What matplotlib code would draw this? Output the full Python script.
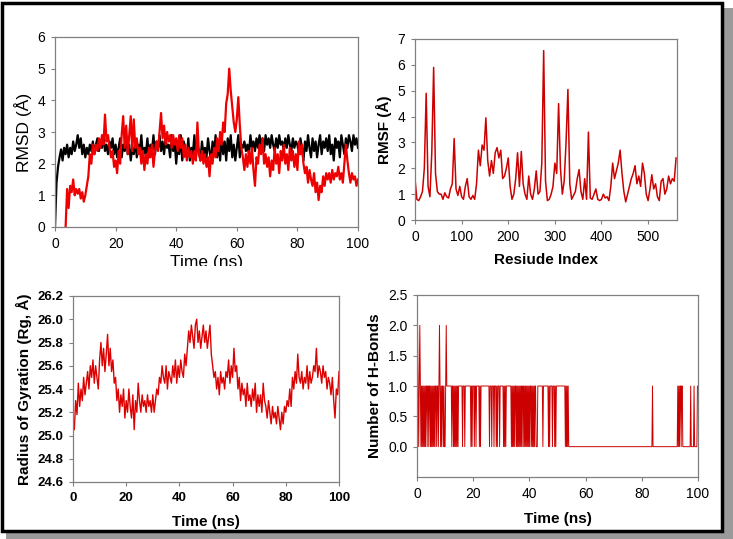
import numpy as np
import matplotlib
matplotlib.use('Agg')
import matplotlib.pyplot as plt
from matplotlib.patches import Rectangle

plt.rcParams['font.family'] = ['Liberation Sans', 'DejaVu Sans']

# RMSD backbone (black) - sampled every 0.5 ns from 0 ns
rmsd_black = [
    0.0, 1.4, 1.9, 2.2, 2.45, 2.1, 2.5, 2.3, 2.6, 2.2, 2.5, 2.3, 2.7, 2.4, 2.6, 2.9, 2.5, 2.8, 2.3, 2.6,
    2.2, 2.5, 2.3, 2.6, 2.4, 2.7, 2.3, 2.6, 2.8, 2.4, 2.7, 2.5, 2.9, 2.4, 2.6, 2.3, 2.7, 2.5, 2.8, 2.3,
    2.6, 2.2, 2.5, 2.8, 2.2, 2.6, 2.4, 2.9, 2.3, 2.6, 2.1, 2.5, 2.3, 2.7, 2.2, 2.6, 2.4, 2.9, 2.2, 2.5,
    2.3, 2.8, 2.2, 2.6, 2.4, 2.9, 2.3, 2.7, 2.5, 2.9, 2.4, 2.7, 2.3, 2.8, 2.5, 2.6, 2.2, 2.9, 2.4, 2.7,
    2.0, 2.6, 2.3, 2.9, 2.1, 2.7, 2.4, 2.2, 2.8, 2.1, 2.5, 2.3, 2.9, 2.2, 2.6, 2.4, 2.1, 2.7, 2.3, 2.5,
    2.2, 2.8, 2.4, 2.1, 2.7, 2.3, 2.9, 2.2, 2.6, 2.1, 2.9, 2.3, 2.7, 2.1, 2.8, 2.4, 2.9, 2.2, 2.6, 2.1,
    2.5, 2.9, 2.2, 2.6, 2.5, 2.7, 2.4, 2.6, 2.3, 2.9, 2.5, 2.7, 2.4, 2.8, 2.5, 2.9, 2.6, 2.8, 2.4, 2.9,
    2.6, 2.8, 2.5, 2.9, 2.6, 2.4, 2.8, 2.5, 2.9, 2.6, 2.7, 2.4, 2.8, 2.5, 2.9, 2.6, 2.4, 2.8, 2.5, 2.7,
    2.6, 2.3, 2.8, 2.5, 2.1, 2.7, 2.4, 2.9, 2.5, 2.2, 2.8, 2.4, 2.7, 2.2, 2.6, 2.9, 2.3, 2.7, 2.5, 2.8,
    2.4, 2.9, 2.3, 2.6, 2.1, 2.8, 2.5, 2.7, 2.2, 2.9, 2.6, 2.3, 2.8, 2.5, 2.9, 2.7, 2.4, 2.9, 2.6, 2.8,
    2.5]

# RMSD complex (red) - sampled every 0.5 ns from 3.5 ns
rmsd_red = [
    0.0, 1.2, 0.6, 1.3, 1.1, 1.5, 1.0, 1.2, 1.05, 1.2, 0.9, 1.1, 0.8, 1.0, 1.3, 1.6,
    2.3, 2.0, 2.6, 2.3, 2.6, 2.4, 2.8, 2.5, 2.9, 2.6, 3.55, 2.7, 2.9, 2.5, 2.2, 2.4, 1.9,
    2.1, 1.7, 2.4, 2.0, 2.9, 3.5, 2.5, 3.2, 2.3, 2.9, 3.5, 2.4, 3.4, 2.5, 2.8, 2.3, 2.5, 2.0, 2.4, 1.8,
    2.3, 2.0, 2.5, 2.2, 2.6, 1.9, 2.4, 2.7, 2.4, 3.0, 3.6, 2.8, 3.2, 2.6, 3.0, 2.7, 2.9, 2.5, 2.9, 2.6,
    2.8, 2.4, 2.9, 2.5, 2.8, 2.2, 2.6, 2.1, 2.5, 2.2, 2.4, 2.0, 2.4, 2.1, 3.3, 2.3, 2.1, 2.4, 2.0, 2.3,
    1.9, 2.2, 1.6, 2.3, 2.0, 2.5, 2.2, 2.8, 2.4, 3.0, 2.6, 3.3, 3.0, 3.9, 4.2, 5.0, 4.3, 3.8, 3.3, 3.0,
    3.4, 4.1, 3.2, 2.5, 2.2, 1.8, 2.3, 1.9, 2.4, 2.0, 2.5, 1.8, 1.3, 2.2, 2.0, 2.6, 2.3, 2.8, 2.0, 2.3,
    1.9, 2.2, 1.6, 2.1, 1.8, 2.5, 2.0, 2.3, 1.7, 2.4, 2.1, 2.6, 2.0, 2.3, 1.8, 2.5, 2.1, 2.4, 1.9, 2.3,
    1.8, 2.7, 2.3, 2.6, 2.0, 1.7, 1.9, 1.4, 1.8, 1.5, 1.3, 1.7, 1.1, 1.4, 0.85, 1.3, 1.1, 1.6, 1.3, 1.7,
    1.5, 1.7, 1.4, 1.8, 1.5, 1.7, 1.6, 1.9, 1.5, 1.7, 1.4, 2.0, 2.6, 2.1, 1.7, 1.4, 1.7, 1.5, 1.6, 1.3,
    1.5]

# RMSF per residue, every 4 residues
rmsf = [
    1.6, 0.8, 0.75, 0.9, 1.1, 2.0, 4.9, 1.3, 0.9, 2.6, 5.9, 1.8, 1.1, 1.0, 1.0, 0.8, 1.05, 0.9, 0.85, 1.2,
    1.4, 3.15, 1.2, 0.95, 1.3, 0.9, 0.8, 1.3, 1.6, 0.9, 0.8, 0.95, 0.8, 1.4, 2.7, 2.1, 2.9, 2.7, 3.95, 2.3,
    1.7, 2.3, 1.8, 2.6, 2.8, 2.4, 2.7, 1.6, 1.7, 2.0, 2.4, 1.3, 0.8, 1.0, 1.6, 2.6, 1.3, 2.65, 1.4, 1.0,
    0.8, 1.7, 1.0, 0.8, 1.2, 1.9, 1.0, 1.1, 2.2, 6.55, 1.5, 0.75, 0.8, 1.0, 1.3, 2.2, 1.8, 4.5, 2.0, 1.0,
    1.5, 3.0, 5.05, 1.4, 0.8, 0.95, 1.1, 1.6, 1.95, 1.1, 0.8, 1.6, 0.8, 3.4, 0.85, 0.8, 1.0, 1.2, 0.8, 0.75,
    0.8, 1.0, 0.85, 0.9, 0.75, 1.3, 2.2, 1.6, 1.9, 2.2, 2.7, 1.8, 1.1, 0.7, 1.0, 1.3, 1.6, 1.8, 2.1, 1.4,
    1.7, 1.3, 2.2, 1.8, 1.0, 0.75, 1.2, 1.75, 1.2, 1.4, 0.9, 0.75, 1.5, 1.6, 1.0, 1.2, 1.7, 1.4, 1.6, 1.5,
    2.4]
rmsf_step = 4

# Radius of gyration, every 0.5 ns
rg = [
    25.15, 25.05, 25.3, 25.18, 25.45, 25.25, 25.4, 25.3, 25.5, 25.35, 25.45, 25.55, 25.4, 25.6, 25.5, 25.65, 25.45, 25.6, 25.5, 25.4,
    25.65, 25.8, 25.6, 25.75, 25.55, 25.7, 25.87, 25.6, 25.75, 25.55, 25.65, 25.45, 25.5, 25.3, 25.4, 25.2, 25.35, 25.25, 25.4, 25.15,
    25.3, 25.2, 25.4, 25.25, 25.15, 25.35, 25.05, 25.3, 25.2, 25.45, 25.3, 25.2, 25.35, 25.25, 25.3, 25.2, 25.35, 25.25, 25.3, 25.2,
    25.35, 25.2, 25.3, 25.4, 25.35, 25.5, 25.45, 25.6, 25.5, 25.45, 25.6, 25.4, 25.55, 25.5, 25.45, 25.6, 25.5, 25.65, 25.45, 25.6,
    25.5, 25.65, 25.55, 25.5, 25.7, 25.6, 25.75, 25.9, 25.8, 25.95, 25.85, 25.75, 25.95, 26.0, 25.8, 25.9, 25.75, 25.85, 25.95, 25.8,
    25.9, 25.75, 25.85, 25.95, 25.7, 25.6, 25.5, 25.55, 25.4, 25.5, 25.35, 25.55, 25.45, 25.5, 25.4, 25.55, 25.5, 25.65, 25.45, 25.6,
    25.5, 25.75, 25.55, 25.6, 25.4, 25.5, 25.3, 25.45, 25.35, 25.4, 25.25, 25.45, 25.3, 25.35, 25.25, 25.4, 25.3, 25.45, 25.2, 25.35,
    25.25, 25.35, 25.2, 25.45, 25.3, 25.25, 25.15, 25.3, 25.2, 25.1, 25.25, 25.15, 25.2, 25.1, 25.25, 25.15, 25.05, 25.2, 25.1, 25.25,
    25.2, 25.3, 25.25, 25.4, 25.25, 25.5, 25.4, 25.55, 25.45, 25.7, 25.5, 25.45, 25.55, 25.4, 25.5, 25.45, 25.6, 25.4, 25.55, 25.45,
    25.5, 25.6, 25.55, 25.75, 25.5, 25.6, 25.55, 25.45, 25.6, 25.5, 25.55, 25.4, 25.5, 25.45, 25.35, 25.5, 25.3, 25.15, 25.4, 25.35,
    25.55]

# number of H-bonds, every 0.2 ns (one string per ns)
hbond_chunks = [
    "12101", "21010", "10101", "01101", "10110", "10101", "01011", "01101", "21010", "11010",
    "01211", "11111", "11011", "01010", "10101", "11111", "10111", "01111", "11111", "10101",
    "11011", "01111", "10101", "11111", "11111", "11110", "11101", "11011", "10101", "11011",
    "11110", "10101", "11111", "11101", "01010", "11010", "10101", "01011", "01010", "10101",
    "01101", "01010", "11000", "11111", "11110", "11111", "11110", "10111", "10111", "01011",
    "11111", "11111", "11110", "10101", "00000"] + ["00000"] * 28 + [
    "00001", "00000"] + ["00000"] * 7 + [
    "00001", "01011", "01100", "00000", "00000", "00100", "00010", "00001", "11011", "1"]
hbonds = [int(c) for c in "".join(hbond_chunks)]

t_black = 0.5 * np.arange(len(rmsd_black))
t_red = 3.5 + 0.5 * np.arange(len(rmsd_red))
res = rmsf_step * np.arange(len(rmsf))
t_rg = 0.5 * np.arange(len(rg))
t_hb = 0.2 * np.arange(len(hbonds))

W, H = 733, 539
fig = plt.figure(figsize=(W / 100, H / 100), dpi=100)

# framed background with drop shadow
fig.patches.append(Rectangle((6 / W, 0), 727 / W, 1 - 8 / H, transform=fig.transFigure,
                             facecolor='#9a9a9a', edgecolor='none', zorder=-2))
fig.patches.append(Rectangle((2 / W, 8 / H), 720 / W, 1 - 11 / H, transform=fig.transFigure,
                             facecolor='white', edgecolor='black', lw=2.5, zorder=-1))

def px_axes(l, t, r, b):
    return fig.add_axes([l / W, 1 - b / H, (r - l) / W, (b - t) / H])

def style(ax, bold_ticks=False, size=10):
    for s in ax.spines.values():
        s.set_color('#808080')
        s.set_linewidth(0.9)
    ax.tick_params(direction='out', length=3, width=0.8, color='#808080', labelsize=size, pad=4)
    if bold_ticks:
        for lab in ax.get_xticklabels() + ax.get_yticklabels():
            lab.set_fontweight('bold')

# top left: RMSD
ax1 = px_axes(55, 37, 358, 227)
ax1.plot(t_black, rmsd_black, color='black', lw=1.6)
ax1.plot(t_red, rmsd_red, color='#ee0000', lw=1.6)
ax1.set_xlim(0, 100)
ax1.set_ylim(0, 6)
ax1.set_xticks([0, 20, 40, 60, 80, 100])
ax1.set_yticks(range(7))
style(ax1)
ax1.set_ylabel('RMSD (Å)', fontsize=12.5)
ax1.set_xlabel('Time (ns)', fontsize=12.5, labelpad=3)

# top right: RMSF
ax2 = px_axes(415, 39, 677, 220)
ax2.plot(res, rmsf, color='#cc0000', lw=1.1)
ax2.set_xlim(0, 562)
ax2.set_ylim(0, 7)
ax2.set_xticks([0, 100, 200, 300, 400, 500])
ax2.set_yticks(range(8))
style(ax2)
ax2.set_ylabel('RMSF (Å)', fontsize=11, fontweight='bold')
ax2.set_xlabel('Resiude Index', fontsize=11, fontweight='bold', labelpad=7)

# bottom left: Rg
ax3 = px_axes(73, 296, 339, 482)
ax3.plot(t_rg, rg, color='#dd0000', lw=1.0)
ax3.set_xlim(0, 100)
ax3.set_ylim(24.6, 26.2)
ax3.set_xticks([0, 20, 40, 60, 80, 100])
ax3.set_yticks(np.arange(24.6, 26.21, 0.2))
ax3.yaxis.set_major_formatter(matplotlib.ticker.FormatStrFormatter('%.1f'))
style(ax3, bold_ticks=True, size=9.5)
ax3.set_ylabel('Radius of Gyration (Rg, Å)', fontsize=11, fontweight='bold')
ax3.set_xlabel('Time (ns)', fontsize=11, fontweight='bold', labelpad=8)

# bottom right: H-bonds
ax4 = px_axes(417, 295, 698, 477)
ax4.plot(t_hb, hbonds, color='#cc0000', lw=0.7)
ax4.set_xlim(0, 100)
ax4.set_ylim(-0.5, 2.5)
ax4.set_xticks([0, 20, 40, 60, 80, 100])
ax4.set_yticks([0.0, 0.5, 1.0, 1.5, 2.0, 2.5])
ax4.yaxis.set_major_formatter(matplotlib.ticker.FormatStrFormatter('%.1f'))
style(ax4)
ax4.set_ylabel('Number of H-Bonds', fontsize=11, fontweight='bold')
ax4.set_xlabel('Time (ns)', fontsize=11, fontweight='bold', labelpad=8)

# the first panel's x label is cut off in the original layout
fig.patches.append(Rectangle((120 / W, 1 - 280 / H), 200 / W, 14 / H, transform=fig.transFigure,
                             facecolor='white', edgecolor='none', zorder=5))

fig.savefig('out.png', dpi=100)
